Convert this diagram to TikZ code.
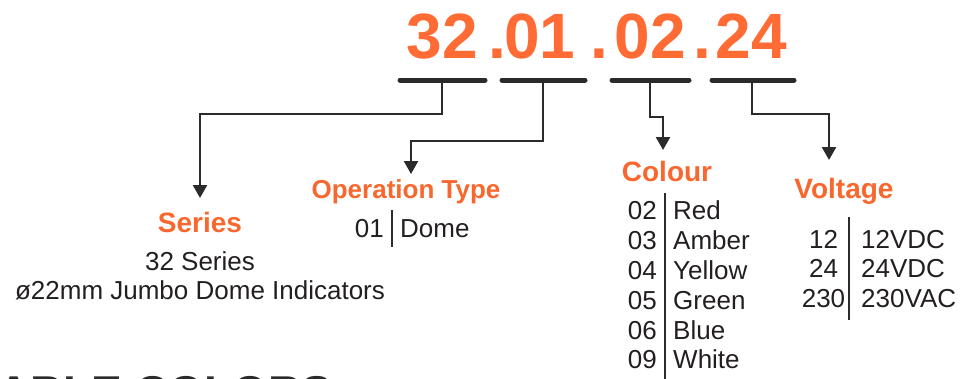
\documentclass[tikz,border=0pt]{standalone}
\usepackage{fontspec}
\setmainfont{Liberation Sans}
\usetikzlibrary{arrows.meta}
\definecolor{titleorange}{HTML}{FF6B35}
\definecolor{headorange}{HTML}{F7672E}
\definecolor{textc}{HTML}{231F20}
\definecolor{linec}{HTML}{2B2B2B}
\newcommand{\titlefont}{\fontsize{64}{64}\selectfont\bfseries}
\newcommand{\headfont}{\fontsize{28}{28}\selectfont\bfseries}
\newcommand{\opfont}{\fontsize{26}{26}\selectfont\bfseries}
\newcommand{\bodyfont}{\fontsize{26}{30}\selectfont}
\tikzset{
  bar/.style={line width=5pt, line cap=round, draw=linec},
  conn/.style={line width=2.4pt, draw=linec, -{Triangle[width=14pt,length=13pt]}},
  sep/.style={line width=2.4pt, draw=linec},
  code/.style={font=\titlefont, text=titleorange, anchor=base, inner sep=0pt},
  head/.style={font=\headfont, text=headorange, anchor=base, inner sep=0pt},
  body/.style={font=\bodyfont, text=textc, anchor=base, inner sep=0pt},
  bodyl/.style={body, anchor=base west},
  bodyr/.style={body, anchor=base east},
}
\begin{document}
\begin{tikzpicture}[x=1pt,y=-1pt]
\useasboundingbox (0,0) rectangle (960,378);
% title code
\node[code] (c1) at (442.5,58) {32};
\node[code] (d1) at (497.5,58) {.};
\node[code] (c2) at (540,58) {01};
\node[code] (d2) at (599,58) {.};
\node[code] (c3) at (650,58) {02};
\node[code] (d3) at (702.5,58) {.};
\node[code] (c4) at (751.5,58) {24};
% bars
\coordinate (b1l) at (400,80); \coordinate (b1r) at (485,80);
\coordinate (b2l) at (502,80); \coordinate (b2r) at (585,80);
\coordinate (b3l) at (612,80); \coordinate (b3r) at (689,80);
\coordinate (b4l) at (712,80); \coordinate (b4r) at (794,80);
\draw[bar] (b1l) -- (b1r);
\draw[bar] (b2l) -- (b2r);
\draw[bar] (b3l) -- (b3r);
\draw[bar] (b4l) -- (b4r);
\coordinate (b1) at (442,80);
\coordinate (b2) at (543,80);
\coordinate (b3) at (650,80);
\coordinate (b4) at (752,80);
\coordinate (t1) at (200,198);
\coordinate (t2) at (411,174);
\coordinate (t3) at (663,150);
\coordinate (t4) at (829,160);
\draw[conn] (b1) -- ++(0,34) -| (t1);
\draw[conn] (b2) -- ++(0,61) -| (t2);
\draw[conn] (b3) -- ++(0,37) -| (t3);
\draw[conn] (b4) -- ++(0,34) -| (t4);
% Series
\node[head] (series) at (200,232) {Series};
\node[body] (s1) at (200,270) {32 Series};
\node[body] (s2) at (200,299) {ø22mm Jumbo Dome Indicators};
% Operation type
\node[head, font=\opfont] (optype) at (406,198) {Operation Type};
\node[bodyr] (o1c) at (384,237) {01};
\node[bodyl] (o1n) at (400,237) {Dome};
\coordinate (ob1) at (392,210); \coordinate (ob2) at (392,247);
\draw[sep] (ob1) -- (ob2);
% Colour
\node[head] (colour) at (667,181) {Colour};
\node[bodyr] (k1) at (657,219) {02}; \node[bodyl] (n1) at (673,219) {Red};
\node[bodyr] (k2) at (657,249) {03}; \node[bodyl] (n2) at (673,249) {Amber};
\node[bodyr] (k3) at (657,279) {04}; \node[bodyl] (n3) at (673,279) {Yellow};
\node[bodyr] (k4) at (657,309) {05}; \node[bodyl] (n4) at (673,309) {Green};
\node[bodyr] (k5) at (657,339) {06}; \node[bodyl] (n5) at (673,339) {Blue};
\node[bodyr] (k6) at (657,368) {09}; \node[bodyl] (n6) at (673,368) {White};
\coordinate (cb1) at (665,193); \coordinate (cb2) at (665,380);
\draw[sep] (cb1) -- (cb2);
% Voltage
\node[head] (voltage) at (844,198) {Voltage};
\node[body] (v1) at (823.5,248) {12};  \node[bodyl] (w1) at (861,248) {12VDC};
\node[body] (v2) at (823.5,277.5) {24};  \node[bodyl] (w2) at (861,277.5) {24VDC};
\node[body] (v3) at (823.5,307) {230}; \node[bodyl] (w3) at (861,307) {230VAC};
\coordinate (vb1) at (849,217); \coordinate (vb2) at (849,320);
\draw[sep] (vb1) -- (vb2);
% cut-off heading at bottom
\begin{scope}
\clip (0,0) rectangle (960,378);
\node[anchor=base west, inner sep=0pt, font=\fontsize{46}{46}\selectfont\bfseries, text=linec] (avail) at (-3,408.5) {ABLE COLORS};
\end{scope}
\end{tikzpicture}
\end{document}
